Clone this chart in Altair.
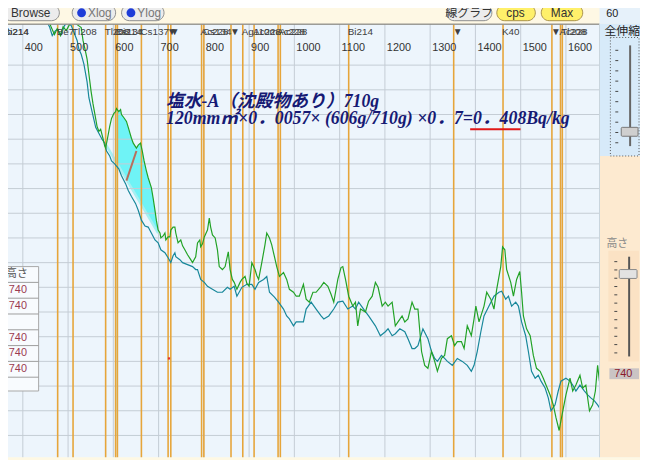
import altair as alt
import pandas as pd

# ---------------- data (energy in keV, counts in arbitrary units) ----------------
green_kev = [455, 463, 470, 476, 483, 489, 496, 503, 511, 520, 529, 533, 538, 542, 546, 551, 555, 559, 564, 568,
             572, 577, 581, 583, 588, 592, 596, 601, 605, 607, 612, 616, 618, 623, 629, 633, 640, 644, 651, 655,
             660, 664, 668, 673, 677, 684, 688, 692, 695, 699, 703, 705, 710, 714, 716, 721, 725, 727, 732, 736,
             738, 743, 749, 753, 758, 764, 771, 775, 782, 786, 791, 793, 797, 801, 806, 808, 812, 815, 819, 825,
             830, 834, 841, 847, 854, 858, 863, 867, 873, 880, 884, 891, 895, 900, 906, 913, 917, 921, 928, 935,
             939, 945, 950, 954, 961, 967, 976, 983, 989, 998, 1004, 1011, 1020, 1026, 1033, 1041, 1048, 1059, 1065, 1074,
             1081, 1087, 1096, 1103, 1107, 1113, 1120, 1129, 1135, 1140, 1146, 1157, 1164, 1172, 1179, 1185, 1194, 1201, 1207, 1216,
             1223, 1229, 1238, 1244, 1251, 1260, 1266, 1273, 1281, 1288, 1295, 1303, 1310, 1316, 1325, 1332, 1338, 1347, 1354, 1360,
             1369, 1375, 1382, 1391, 1397, 1401, 1408, 1419, 1425, 1434, 1441, 1447, 1456, 1460, 1465, 1469, 1478, 1484, 1491, 1498,
             1502, 1506, 1513, 1521, 1528, 1535, 1543, 1550, 1556, 1565, 1572, 1578, 1585, 1589, 1600, 1609, 1615, 1622, 1631, 1637,
             1644, 1652, 1659, 1665, 1670, 1674]
green_cnt = [423, 413, 406, 412, 405, 414, 410, 416, 420, 416, 413, 400, 390, 381, 366, 348, 336, 326, 313, 308,
             310, 301, 293, 291, 303, 313, 321, 326, 328, 331, 328, 330, 325, 322, 318, 312, 301, 296, 291, 294,
             296, 288, 278, 268, 261, 251, 240, 228, 218, 208, 205, 200, 202, 205, 198, 201, 201, 208, 211, 211,
             205, 195, 198, 192, 188, 183, 178, 175, 181, 195, 198, 191, 194, 201, 206, 208, 220, 211, 203, 200,
             188, 171, 168, 171, 186, 168, 158, 155, 148, 155, 158, 161, 154, 151, 175, 168, 162, 158, 175, 193,
             205, 200, 193, 185, 171, 161, 165, 158, 148, 145, 141, 141, 153, 138, 135, 145, 145, 151, 155, 151,
             143, 135, 158, 170, 171, 158, 141, 131, 135, 111, 128, 125, 136, 141, 155, 150, 131, 135, 131, 135,
             111, 115, 121, 115, 118, 135, 128, 128, 85, 71, 68, 85, 75, 65, 78, 81, 98, 101, 91, 95,
             95, 88, 111, 101, 118, 131, 115, 131, 145, 138, 128, 148, 171, 191, 188, 168, 155, 141, 158, 166,
             145, 121, 108, 101, 81, 68, 65, 58, 51, 41, 31, 18, 5, 15, 41, 58, 45, 51, 61, 48,
             51, 25, 31, 45, 71, 55]

teal_kev = [448, 459, 465, 472, 476, 485, 492, 498, 507, 513, 520, 524, 529, 535, 542, 546, 553, 557, 561, 568,
            575, 581, 585, 592, 596, 603, 612, 618, 627, 633, 640, 649, 655, 662, 670, 677, 684, 692, 699, 705,
            714, 721, 727, 732, 736, 738, 747, 753, 764, 775, 782, 786, 793, 801, 808, 819, 830, 841, 852, 858,
            867, 873, 884, 895, 906, 913, 921, 932, 939, 945, 956, 965, 976, 983, 989, 998, 1004, 1011, 1020, 1026,
            1037, 1048, 1059, 1065, 1076, 1087, 1096, 1107, 1118, 1129, 1135, 1142, 1153, 1164, 1179, 1190, 1201, 1207, 1216, 1223,
            1233, 1244, 1251, 1260, 1266, 1273, 1284, 1295, 1303, 1310, 1316, 1325, 1332, 1338, 1349, 1360, 1371, 1382, 1391, 1397,
            1404, 1412, 1419, 1430, 1441, 1452, 1458, 1467, 1473, 1480, 1489, 1495, 1502, 1511, 1517, 1524, 1532, 1539, 1545, 1554,
            1561, 1567, 1576, 1583, 1589, 1600, 1609, 1615, 1622, 1631, 1641, 1648, 1655, 1663, 1670, 1674]
teal_cnt = [423, 414, 405, 410, 411, 406, 415, 418, 415, 408, 400, 391, 386, 376, 358, 342, 328, 320, 312, 306,
            300, 296, 288, 283, 278, 275, 270, 263, 255, 248, 242, 235, 228, 218, 212, 211, 205, 198, 195, 188,
            185, 180, 175, 182, 185, 181, 178, 175, 173, 171, 168, 168, 158, 155, 151, 148, 145, 145, 150, 148,
            151, 141, 150, 153, 153, 148, 155, 158, 161, 145, 140, 135, 128, 121, 118, 111, 115, 115, 115, 128,
            135, 128, 121, 118, 121, 128, 135, 136, 128, 131, 128, 135, 128, 121, 111, 101, 105, 108, 101, 103,
            108, 105, 98, 88, 88, 91, 108, 98, 85, 78, 75, 81, 78, 75, 71, 78, 75, 71, 65, 71,
            85, 105, 121, 131, 141, 145, 146, 138, 141, 131, 135, 131, 115, 101, 85, 65, 58, 61, 55, 48,
            38, 25, 31, 45, 55, 58, 55, 51, 45, 51, 45, 41, 38, 35, 31, 28]

# region of interest (peak area)
roi_line_kev = [583, 699]
roi_line_cnt = [295, 205]
roi_fill_kev = [607, 699]
roi_fill_cnt = [276, 205]
marker_kev = [629, 651]
marker_cnt = [258, 288]
dot_kev = [723]
dot_cnt = [78]

# nuclide lines and labels
nuclide_kev = [352, 360, 477, 511, 583, 605, 609, 662, 721, 727, 795, 800, 860, 886, 911, 964, 969,
               1120, 1352, 1461, 1569, 1588, 1592]
label_kev = [352, 360, 477, 511, 583, 605, 609, 662, 721, 727, 795, 800, 860, 886, 911, 964, 969,
             1120, 1352, 1461, 1569, 1588, 1592]
label_txt = ["Pb214", "Bi214", "Be7", "Tl208", "Tl208", "Cs134", "Bi214", "Cs137", "▼", "▼", "Ac228", "Cs134",
             "▼", "Ag110m", "Ac228", "Ac228", "Ac228", "Bi214", "▼", "K40", "▼", "Ac228", "Tl208"]

tick_kev = [400, 500, 600, 700, 800, 900, 1000, 1100, 1200, 1300, 1400, 1500, 1600]
grid_cnt = [0, 25, 50, 75, 100, 125, 150, 175, 200, 225, 250, 275, 300, 325, 350, 375]

table_vals = ["740", "740", "", "740", "740", "740", ""]

title1 = "塩水-A（沈殿物あり）710g"
title2 = "120mm㎡×0．0057× (606g/710g) ×0．7=0．408Bq/kg"

# ---------------- styling ----------------
BG = "#EDF5FC"
GRID = "#C4CCD4"
ORANGE = "#E6A53A"
GREEN = "#22A226"
TEAL = "#17879A"
SANS = "Liberation Sans, DejaVu Sans, Noto Sans CJK JP"

X = alt.Scale(domain=[367.27, 1763.64], nice=False, zero=False)
Y = alt.Scale(domain=[-22, 416], nice=False, zero=False)


def xe(f="kev"):
    return alt.X(f"{f}:Q", scale=X, axis=None)


def ye(f="cnt"):
    return alt.Y(f"{f}:Q", scale=Y, axis=None)


ONE = pd.DataFrame({"k": [0]})


def px(x):
    return x - 8


def py(y):
    return y - 22


def rect(x1, y1, x2, y2, fill, stroke=None, sw=1, r=0, dash=None, fop=1.0):
    kw = dict(fill=fill, cornerRadius=r, fillOpacity=fop)
    if stroke:
        kw.update(stroke=stroke, strokeWidth=sw)
    if dash:
        kw["strokeDash"] = dash
    return alt.Chart(ONE).mark_rect(**kw).encode(
        x=alt.value(px(x1)), x2=alt.value(px(x2)), y=alt.value(py(y1)), y2=alt.value(py(y2)))


def seg(x1, y1, x2, y2, color, w=1.0):
    return alt.Chart(ONE).mark_rule(color=color, strokeWidth=w).encode(
        x=alt.value(px(x1)), x2=alt.value(px(x2)), y=alt.value(py(y1)), y2=alt.value(py(y2)))


def txt(x, y, s, size=11, color="#333", font=SANS, align="left", **kw):
    return alt.Chart(ONE).mark_text(text=s, fontSize=size, color=color, font=font, align=align,
                                    baseline="middle", **kw).encode(x=alt.value(px(x)), y=alt.value(py(y)))


green_df = pd.DataFrame({"kev": green_kev, "cnt": green_cnt})
teal_df = pd.DataFrame({"kev": teal_kev, "cnt": teal_cnt})

layers = []

# peak area fill (cyan), then mask under the baseline
layers.append(alt.Chart(green_df).transform_filter(
    (alt.datum.kev >= roi_fill_kev[0]) & (alt.datum.kev <= roi_fill_kev[1])
).mark_area(color="#6FF3F6", opacity=1).encode(x=xe(), y=ye(), y2=alt.value(438)))
layers.append(alt.Chart(pd.DataFrame({"kev": roi_fill_kev, "cnt": roi_fill_cnt})).mark_area(
    color=BG, opacity=1).encode(x=xe(), y=ye(), y2=alt.value(438)))
layers.append(alt.Chart(pd.DataFrame({"kev": roi_line_kev, "cnt": roi_line_cnt})).mark_line(
    color="#A4F0F2", strokeWidth=2.5).encode(x=xe(), y=ye()))

# grid
layers.append(alt.Chart(pd.DataFrame({"kev": tick_kev})).mark_rule(color=GRID, strokeWidth=1).encode(x=xe()))
layers.append(alt.Chart(pd.DataFrame({"cnt": grid_cnt})).mark_rule(color=GRID, strokeWidth=1).encode(y=ye()))

# nuclide lines
layers.append(alt.Chart(pd.DataFrame({"kev": nuclide_kev})).mark_rule(color=ORANGE, strokeWidth=1.6).encode(x=xe()))

# spectra
layers.append(alt.Chart(teal_df).mark_line(color=TEAL, strokeWidth=1.2, clip=True).encode(x=xe(), y=ye()))
layers.append(alt.Chart(green_df).mark_line(color=GREEN, strokeWidth=1.2, clip=True).encode(x=xe(), y=ye()))

# marker line and dot
layers.append(alt.Chart(pd.DataFrame({"kev": marker_kev, "cnt": marker_cnt})).mark_line(
    color="#B86E5C", strokeWidth=2).encode(x=xe(), y=ye()))
layers.append(alt.Chart(pd.DataFrame({"kev": dot_kev, "cnt": dot_cnt})).mark_square(
    color="#E03030", size=5, opacity=1).encode(x=xe(), y=ye()))

# top border of plot
layers.append(seg(8, 21.5, 607, 21.5, "#6A6A6A", 1))

# labels
layers.append(alt.Chart(pd.DataFrame({"kev": label_kev, "t": label_txt})).mark_text(
    align="left", baseline="middle", fontSize=10, font=SANS, color="#404040", dx=-1
).encode(x=xe(), y=alt.value(py(29)), text="t:N"))
layers.append(alt.Chart(pd.DataFrame({"kev": tick_kev, "t": [str(v) for v in tick_kev]})).mark_text(
    align="left", baseline="middle", fontSize=11, font=SANS, color="#333333", dx=2
).encode(x=xe(), y=alt.value(py(46)), text="t:N"))

# annotation
SERIF = "Liberation Serif, Noto Sans CJK JP"
layers.append(txt(168, 100, title1, size=18, color="#161A74", font=SERIF, fontStyle="italic", fontWeight="bold"))
layers.append(txt(168, 118, title2, size=18, color="#161A74", font=SERIF, fontStyle="italic", fontWeight="bold"))
layers.append(seg(476, 128, 527, 128, "#E01818", 2))

# left table
layers.append(rect(0, 267, 39, 393, "#F8FBFE", stroke="#A8A8A8", sw=1))
for yy in [283, 299, 315, 331, 347, 363, 379]:
    layers.append(seg(0, yy, 39, yy, "#9C9C9C", 1))
layers.append(txt(17, 275, "高さ", size=11, color="#555555", align="center"))
for i, v in enumerate(table_vals):
    if v:
        layers.append(txt(18, 291 + 16 * i, v, size=11, color="#9C3A50", align="center"))

# right panel
layers.append(rect(607, 0, 648, 21, "#E6F1FA"))
layers.append(rect(607, 21, 648, 155, "#D7EAF9"))
layers.append(rect(607, 155, 648, 460, "#FDEAD0"))
layers.append(seg(607, 21, 607, 460, "#C8D4DC", 1))
layers.append(txt(620, 11, "60", size=11, color="#222222", align="center"))
layers.append(txt(630, 28, "全伸縮", size=12, color="#222222", align="center"))
layers.append(rect(618, 35, 647, 155, "#000000", stroke="#555555", sw=1, dash=[1, 2], fop=0))
layers.append(seg(638, 43, 638, 145, "#666666", 2))
for k in range(10):
    layers.append(seg(623, 48 + 10.4 * k, 626, 48 + 10.4 * k, "#444444", 1))
layers.append(rect(629, 126, 646, 135, "#CFCFCF", stroke="#777777", sw=1, r=1))
layers.append(txt(625, 244, "高さ", size=11, color="#8A8A8A", align="center"))
layers.append(rect(616, 251, 647, 363, "#FBE2C4"))
layers.append(seg(637, 257, 637, 358, "#555555", 2))
for k in range(12):
    layers.append(seg(622, 262 + 8.4 * k, 625, 262 + 8.4 * k, "#444444", 1))
layers.append(rect(627, 270, 645, 279, "#E2E2E2", stroke="#888888", sw=1, r=1))
layers.append(rect(617, 370, 647, 381, "#CAC4C4"))
layers.append(txt(631, 375.5, "740", size=11, color="#8B1A2A", align="center"))

# toolbar buttons
def button(x1, x2, label, cx, fill, stroke, tcolor):
    return [rect(x1, 2, x2, 18, fill, stroke=stroke, sw=1, r=8),
            txt(cx, 10.5, label, size=12, color=tcolor, align="center")]

layers += button(3, 60, "Browse", 31, "#ECECEC", "#8C8C8C", "#333333")
layers += button(73, 117, "Xlog", 101, "#ECECEC", "#8C8C8C", "#777777")
layers += button(123, 166, "Ylog", 151, "#ECECEC", "#8C8C8C", "#777777")
layers += button(452, 498, "線グラフ", 475, "#ECECEC", "#8C8C8C", "#333333")
layers += button(503, 542, "cps", 522, "#FFF06A", "#A89048", "#333333")
layers += button(548, 590, "Max", 569, "#FFF06A", "#A89048", "#333333")
for cx in [82.5, 132.5]:
    layers.append(alt.Chart(ONE).mark_point(shape="circle", filled=True, size=81, color="#1E3CD8", opacity=1)
                  .encode(x=alt.value(px(cx)), y=alt.value(py(10))))

chart = alt.layer(*layers).properties(
    width=640, height=438,
    padding={"left": 0, "top": 14, "right": 0, "bottom": 0},
    autosize=alt.AutoSizeParams(type="none"),
    background="#FEF8E4",
).configure_view(fill=BG, stroke=None)

chart.save("out.html", embed_options={"renderer": "svg", "actions": False})
